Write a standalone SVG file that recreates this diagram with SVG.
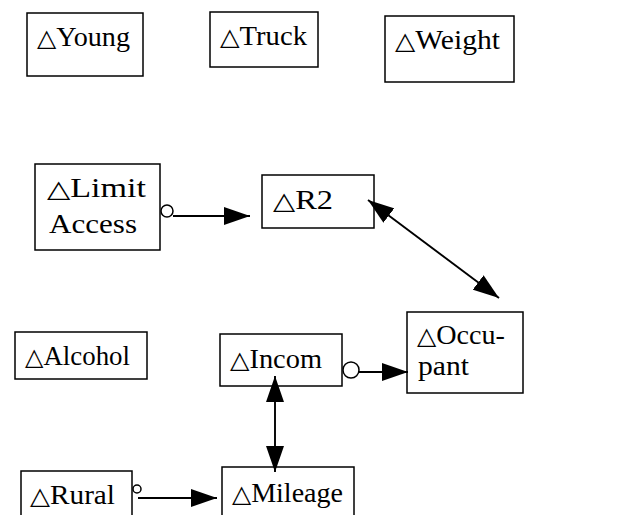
<svg xmlns="http://www.w3.org/2000/svg" width="623" height="515" viewBox="0 0 623 515">
  <style>
    .box { fill: #ffffff; stroke: #000000; stroke-width: 1.5; }
    .lbl { font-family: "Liberation Serif", "DejaVu Serif", serif; font-size: 27px; fill: #000000; }
    .tri { font-family: "DejaVu Sans", "Liberation Sans", sans-serif; font-size: 24px; }
    .edge { fill: none; stroke: #000000; stroke-width: 1.9; }
    .dot { fill: #ffffff; stroke: #000000; stroke-width: 1.5; }
  </style>
  <defs>
    <marker id="head" viewBox="0 0 26 18" refX="26" refY="9" markerWidth="26" markerHeight="18" markerUnits="userSpaceOnUse" orient="auto-start-reverse">
      <path d="M0,0 L26,9 L0,18 Z" fill="#000000"/>
    </marker>
  </defs>
  <rect width="623" height="515" fill="#ffffff"/>

  <g id="young">
    <rect class="box" x="27" y="13" width="116" height="63"/>
    <text class="lbl" x="37" y="46" textLength="93" lengthAdjust="spacingAndGlyphs"><tspan class="tri">△</tspan>Young</text>
  </g>
  <g id="truck">
    <rect class="box" x="210" y="12" width="108" height="55"/>
    <text class="lbl" x="220" y="45" textLength="87" lengthAdjust="spacingAndGlyphs"><tspan class="tri">△</tspan>Truck</text>
  </g>
  <g id="weight">
    <rect class="box" x="385" y="16" width="129" height="66"/>
    <text class="lbl" x="395" y="49" textLength="105" lengthAdjust="spacingAndGlyphs"><tspan class="tri">△</tspan>Weight</text>
  </g>
  <g id="limit-access">
    <rect class="box" x="35" y="164" width="125" height="86"/>
    <text class="lbl" x="47" y="197" textLength="99" lengthAdjust="spacingAndGlyphs"><tspan class="tri">△</tspan>Limit</text>
    <text class="lbl" x="49" y="233" textLength="88" lengthAdjust="spacingAndGlyphs">Access</text>
  </g>
  <g id="r2">
    <rect class="box" x="262" y="175" width="112" height="53"/>
    <text class="lbl" x="273" y="209" textLength="60" lengthAdjust="spacingAndGlyphs"><tspan class="tri">△</tspan>R2</text>
  </g>
  <g id="alcohol">
    <rect class="box" x="15" y="332" width="132" height="47"/>
    <text class="lbl" x="25" y="365" textLength="105" lengthAdjust="spacingAndGlyphs"><tspan class="tri">△</tspan>Alcohol</text>
  </g>
  <g id="incom">
    <rect class="box" x="220" y="334" width="122" height="52"/>
    <text class="lbl" x="230" y="368" textLength="92" lengthAdjust="spacingAndGlyphs"><tspan class="tri">△</tspan>Incom</text>
  </g>
  <g id="occupant">
    <rect class="box" x="407" y="312" width="116" height="81"/>
    <text class="lbl" x="417" y="344" textLength="88" lengthAdjust="spacingAndGlyphs"><tspan class="tri">△</tspan>Occu-</text>
    <text class="lbl" x="418" y="375" textLength="51" lengthAdjust="spacingAndGlyphs">pant</text>
  </g>
  <g id="rural">
    <rect class="box" x="21" y="471" width="111" height="60"/>
    <text class="lbl" x="30" y="504" textLength="85" lengthAdjust="spacingAndGlyphs"><tspan class="tri">△</tspan>Rural</text>
  </g>
  <g id="mileage">
    <rect class="box" x="222" y="467" width="132" height="60"/>
    <text class="lbl" x="232" y="502" textLength="111" lengthAdjust="spacingAndGlyphs"><tspan class="tri">△</tspan>Mileage</text>
  </g>

  <g id="connectors">
    <circle class="dot" cx="167" cy="211" r="6"/>
    <line class="edge" x1="173" y1="216" x2="250" y2="216" marker-end="url(#head)"/>

    <line class="edge" x1="368" y1="200" x2="499" y2="298" marker-start="url(#head)" marker-end="url(#head)"/>

    <circle class="dot" cx="351" cy="370" r="8"/>
    <line class="edge" x1="359" y1="372" x2="408" y2="372" marker-end="url(#head)"/>

    <line class="edge" x1="275" y1="376" x2="275" y2="472" marker-start="url(#head)" marker-end="url(#head)"/>

    <circle class="dot" cx="137" cy="489" r="4"/>
    <line class="edge" x1="138" y1="498" x2="217" y2="498" marker-end="url(#head)"/>
  </g>
</svg>
